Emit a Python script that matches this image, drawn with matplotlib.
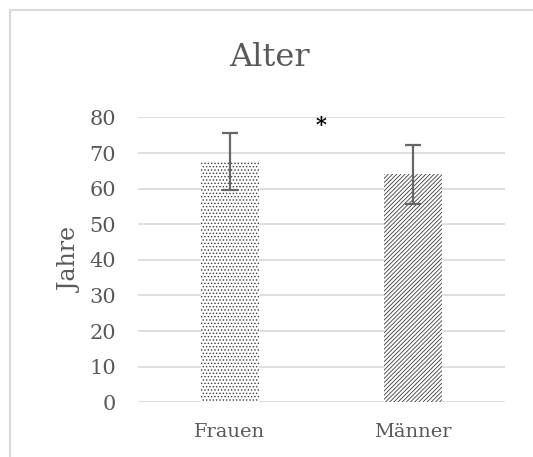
import matplotlib.pyplot as plt
from matplotlib.lines import Line2D

# Mean age per group with standard deviation
groups = ['Frauen', 'Männer']
mean_age = [67.6, 64.0]
sd_age = [7.9, 8.3]
hatches = ['.....', '////////']

# Significance marker between the groups
sig_label = '*'
sig_y = 78.0

TEXT = '#595959'
GRID = '#d9d9d9'

plt.rcParams['font.family'] = ['DejaVu Serif']
plt.rcParams['hatch.linewidth'] = 0.6

fig = plt.figure(figsize=(5.33, 4.57), dpi=100)
ax = fig.add_axes([0.259, 0.1197, 0.688, 0.6233])

x = range(len(groups))
bars = ax.bar(x, mean_age, width=0.316, color='white', edgecolor='#3a3a3a',
              linewidth=0, zorder=2)
for b, h in zip(bars, hatches):
    b.set_hatch(h)
ax.errorbar(x, mean_age, yerr=sd_age, fmt='none', ecolor='#666666',
            elinewidth=1.6, capsize=6, capthick=1.6, zorder=3)

ax.text(0.5, sig_y, sig_label, ha='center', va='center', fontsize=15,
        color='black', fontweight='bold')

ax.set_xlim(-0.5, 1.5)
ax.set_ylim(0, 80)
ax.set_yticks(range(0, 81, 10))
ax.set_xticks(list(x))
ax.set_xticklabels(groups)
ax.yaxis.grid(True, color=GRID, linewidth=1.2, zorder=0)
ax.set_axisbelow(True)
for s in ax.spines.values():
    s.set_visible(False)
ax.tick_params(axis='x', length=0, labelsize=14, colors=TEXT, pad=15)
ax.tick_params(axis='y', length=0, labelsize=15, colors=TEXT, pad=16)
ax.set_ylabel('Jahre', fontsize=17, color=TEXT)
ax.yaxis.set_label_coords(-0.152, 0.5)

# title centred on the whole chart
fig.text(0.505, 1 - 57 / 457, 'Alter', ha='center', va='center',
         fontsize=23, color=TEXT)

# chart frame, cut off at the right and bottom
fx = 10 / 533
fy = 1 - 10 / 457
fig.add_artist(Line2D([fx, fx, 1], [0, fy, fy], transform=fig.transFigure,
                      color=GRID, linewidth=1.5))

fig.savefig('out.png', dpi=100)
